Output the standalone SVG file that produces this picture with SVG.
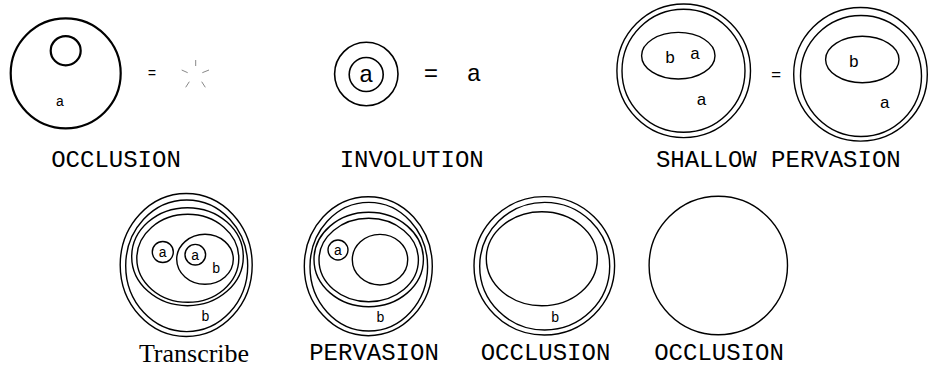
<svg xmlns="http://www.w3.org/2000/svg" width="928" height="368" viewBox="0 0 928 368">
<style>
.s{fill:none;stroke:#000;stroke-width:1.4}
.t{font-family:"Liberation Mono","Courier New",monospace;fill:#000}
.lbl{font-size:24px;text-anchor:middle}
.sm{font-size:14px;text-anchor:middle}
.md{font-size:17px;text-anchor:middle}
.star{stroke:#888;stroke-width:1}
</style>
<rect width="928" height="368" fill="#fff"/>
<g id="occlusion-top">
<circle cx="65.7" cy="73.3" r="55" fill="none" stroke="#000" stroke-width="2.2"/>
<ellipse cx="65.7" cy="50.7" rx="15" ry="14.6" fill="none" stroke="#000" stroke-width="2.2"/>
<text class="t sm" x="60" y="106">a</text>
<text class="t sm" x="152" y="78">=</text>
<g class="star">
<line x1="195.7" y1="60" x2="195.7" y2="66"/>
<line x1="181.7" y1="70" x2="187.7" y2="72.7"/>
<line x1="202.3" y1="72.7" x2="209" y2="70"/>
<line x1="185.7" y1="87.3" x2="189.3" y2="81.7"/>
<line x1="201.7" y1="81.7" x2="205.3" y2="87.3"/>
</g>
<text class="t lbl" x="116" y="166.5">OCCLUSION</text>
</g>
<g id="involution">
<circle cx="366.3" cy="74" r="31.7" fill="none" stroke="#000" stroke-width="1.6"/>
<circle cx="366.2" cy="74.5" r="17" fill="none" stroke="#000" stroke-width="1.6"/>
<text class="t lbl" x="366.2" y="82">a</text>
<text class="t lbl" x="431" y="81">=</text>
<text class="t lbl" x="474" y="81">a</text>
<text class="t lbl" x="411.7" y="167">INVOLUTION</text>
</g>
<g id="shallow-pervasion">
<circle class="s" cx="683.7" cy="70.8" r="66.8"/>
<circle class="s" cx="683.5" cy="70.8" r="61.5"/>
<ellipse class="s" cx="678.3" cy="55.7" rx="36.7" ry="23.3"/>
<text class="t md" x="670" y="63.3">b</text>
<text class="t md" x="695" y="59.3">a</text>
<text class="t md" x="701.5" y="105">a</text>
<text class="t md" x="776.2" y="80">=</text>
<circle class="s" cx="860.5" cy="74.3" r="66.8"/>
<circle class="s" cx="861" cy="76" r="60.5"/>
<ellipse class="s" cx="862.3" cy="59.5" rx="36.7" ry="23.2"/>
<text class="t md" x="853.8" y="66.7">b</text>
<text class="t md" x="884.8" y="108.3">a</text>
<text class="t lbl" x="778.3" y="166.5">SHALLOW PERVASION</text>
</g>
<g id="transcribe">
<ellipse class="s" cx="186.2" cy="265" rx="66" ry="71.5"/>
<ellipse class="s" cx="186.7" cy="265.8" rx="61" ry="65.8"/>
<ellipse class="s" cx="187.5" cy="256.7" rx="55.8" ry="49"/>
<ellipse class="s" cx="187.8" cy="258.3" rx="51" ry="44"/>
<circle class="s" cx="162.8" cy="252" r="10.5"/>
<text class="t sm" x="162.8" y="257">a</text>
<ellipse class="s" cx="205" cy="259.3" rx="28.3" ry="25"/>
<circle class="s" cx="195.3" cy="254.7" r="10.3"/>
<text class="t sm" x="195.3" y="259.7">a</text>
<text class="t sm" x="216.3" y="273.3">b</text>
<text class="t sm" x="205.5" y="321">b</text>
<text x="194" y="362" font-family="'Liberation Serif','Times New Roman',serif" font-size="26" text-anchor="middle" fill="#000">Transcribe</text>
</g>
<g id="pervasion">
<ellipse class="s" cx="368.3" cy="266.2" rx="64" ry="69.5"/>
<ellipse class="s" cx="368.8" cy="266.7" rx="58.8" ry="64.3"/>
<ellipse class="s" cx="368.7" cy="259.5" rx="54.7" ry="47.2"/>
<ellipse class="s" cx="368.7" cy="260" rx="49.7" ry="41.7"/>
<circle class="s" cx="338" cy="250" r="10"/>
<text class="t sm" x="338" y="255">a</text>
<ellipse class="s" cx="380" cy="259.7" rx="27.7" ry="25.3"/>
<text class="t sm" x="380.5" y="321.7">b</text>
<text class="t lbl" x="374" y="360">PERVASION</text>
</g>
<g id="occlusion-2">
<ellipse class="s" cx="544.3" cy="265.8" rx="70.3" ry="69.2"/>
<ellipse class="s" cx="544.7" cy="266.2" rx="65" ry="63.8"/>
<ellipse class="s" cx="541.8" cy="258.7" rx="55.5" ry="47"/>
<text class="t sm" x="555.2" y="321.7">b</text>
<text class="t lbl" x="545.5" y="360">OCCLUSION</text>
</g>
<g id="occlusion-3">
<circle class="s" cx="718.3" cy="265.5" r="69.2"/>
<text class="t lbl" x="719" y="360">OCCLUSION</text>
</g>
<g id="connectors"></g>
</svg>
